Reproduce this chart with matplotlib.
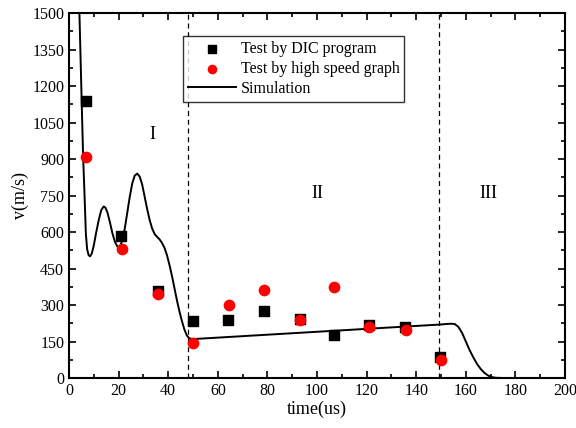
import matplotlib.pyplot as plt
from matplotlib.ticker import MultipleLocator

plt.rcParams['font.family'] = ['Liberation Serif', 'DejaVu Serif']
plt.rcParams['mathtext.fontset'] = 'stix'

# Test by DIC program
dic_t = [7, 21, 36, 50, 64, 78.5, 93, 107, 121, 135.5, 149.5]
dic_v = [1140, 585, 358, 235, 237, 275, 243, 177, 218, 210, 85]

# Test by high speed graph
hs_t = [7, 21.5, 36, 50, 64.5, 78.5, 93, 107, 121, 136, 150]
hs_v = [908, 530, 345, 142, 300, 360, 237, 373, 210, 197, 75]

# Simulation curve
sim_t = [3.6, 4.2, 5.1, 5.7, 6.3, 6.8, 7.3, 7.9, 8.5, 9.2, 10.0, 11.0, 12.0,
         13.0, 14.0, 14.7, 15.5, 16.5, 17.5, 18.5, 19.5, 20.5, 21.5, 22.5,
         23.5, 24.5, 25.5, 26.5, 27.5, 28.5, 29.5, 30.5, 31.5, 32.5, 33.5,
         34.5, 35.5, 36.5, 37.5, 38.5, 39.5, 40.5, 41.5, 42.5, 43.5, 44.5,
         45.5, 46.5, 47.5, 48.5, 50, 60, 80, 100, 120, 140, 150, 152, 154,
         155.5, 157, 158.5, 160, 161.5, 163, 164.5, 166, 167.5, 169, 170.5,
         172, 175]
sim_v = [1800, 1500, 1140, 907, 740, 593, 530, 505, 500, 512, 545, 600, 650,
         690, 705, 700, 680, 640, 595, 560, 540, 540, 565, 615,
         680, 745, 800, 832, 840, 828, 795, 745, 695, 650, 615,
         592, 580, 570, 555, 535, 505, 465, 420, 370, 320, 275,
         235, 200, 175, 163, 160, 166, 178, 190, 202, 214, 220, 222, 223,
         222, 210, 185, 150, 115, 85, 58, 37, 21, 10, 4,
         1, 0]

boundaries = [48, 149]
region_labels = ['I', 'II', 'III']
region_t = [33.5, 100, 169]
region_v = [1000, 760, 760]

fig, ax = plt.subplots(figsize=(5.76, 4.28), dpi=100)
fig.subplots_adjust(left=0.1198, right=0.981, bottom=0.1168, top=0.9696)

ax.plot(sim_t, sim_v, color='black', lw=1.4, label='Simulation', zorder=3)
ax.scatter(dic_t, dic_v, s=45, marker='s', color='black',
           label='Test by DIC program', zorder=4)
ax.scatter(hs_t, hs_v, s=55, marker='o', color='red',
           label='Test by high speed graph', zorder=5)

for b in boundaries:
    ax.axvline(b, color='black', ls=(0, (4, 3)), lw=0.9, zorder=2)
for lab, t, v in zip(region_labels, region_t, region_v):
    ax.text(t, v, lab, ha='center', va='center', fontsize=13)

ax.set_xlim(0, 200)
ax.set_ylim(0, 1500)
ax.xaxis.set_major_locator(MultipleLocator(20))
ax.xaxis.set_minor_locator(MultipleLocator(10))
ax.yaxis.set_major_locator(MultipleLocator(150))
ax.yaxis.set_minor_locator(MultipleLocator(75))
ax.tick_params(which='both', direction='in', labelsize=11.5, width=1.2,
               top=True, right=True)
ax.tick_params(which='major', length=5)
ax.tick_params(which='minor', length=3)
for s in ax.spines.values():
    s.set_linewidth(1.5)

ax.set_xlabel('time(us)', fontsize=13, labelpad=1)
ax.set_ylabel('v(m/s)', fontsize=13, labelpad=2)

h, l = ax.get_legend_handles_labels()
order = [1, 2, 0]
leg = ax.legend([h[i] for i in order], [l[i] for i in order],
                loc='upper left', bbox_to_anchor=(0.23, 0.937), fontsize=11.5,
                frameon=True, fancybox=False, edgecolor='black',
                handlelength=3.0, labelspacing=0.25, borderpad=0.3,
                handletextpad=0.3, markerscale=0.8, borderaxespad=0)
leg.get_frame().set_linewidth(1.0)

fig.savefig('out.png')
